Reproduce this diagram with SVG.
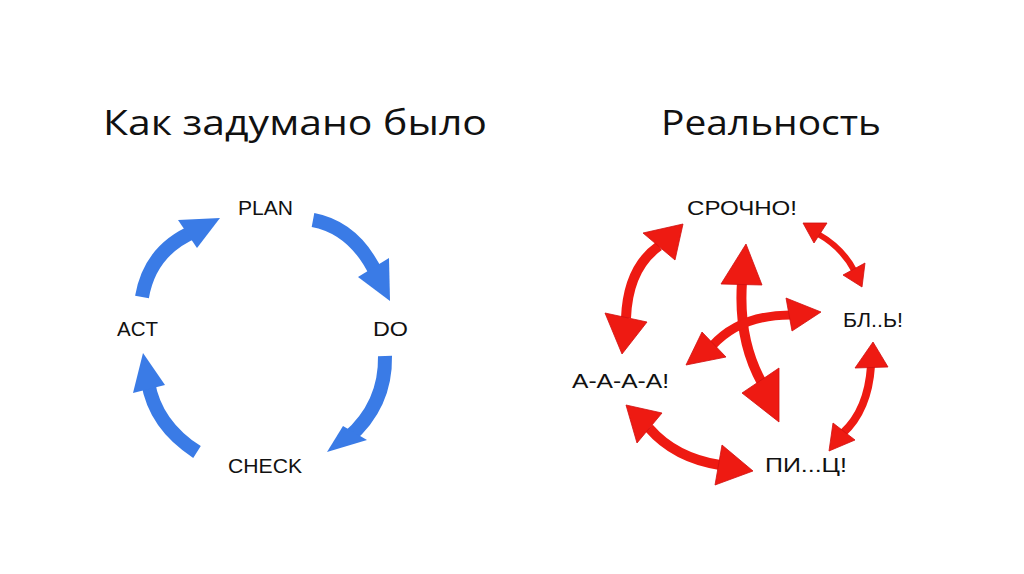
<svg xmlns="http://www.w3.org/2000/svg" width="1024" height="574" viewBox="0 0 1024 574">
<style>
.title{font-family:"Open Sans","Liberation Sans",sans-serif;font-size:35px;fill:#111}
.lbl{font-family:"Liberation Sans",Arial,sans-serif;font-size:21px;fill:#111}
.bs{fill:none;stroke:#3a7be6;stroke-linecap:butt}
.bh{fill:#3a7be6}
.rs{fill:none;stroke:#ee1a12;stroke-linecap:butt}
.rh{fill:#ee1a12;stroke:#d01010;stroke-width:0.8;stroke-linejoin:round}
</style>
<rect width="1024" height="574" fill="#ffffff"/>
<g id="title-left"><text class="title" x="103" y="135" textLength="384" lengthAdjust="spacingAndGlyphs">Как задумано было</text></g>
<g id="title-right"><text class="title" x="661" y="135" textLength="220" lengthAdjust="spacingAndGlyphs">Реальность</text></g>

<g id="node-plan"><text class="lbl" x="238" y="215" textLength="55" lengthAdjust="spacingAndGlyphs">PLAN</text></g>
<g id="node-do"><text class="lbl" x="373" y="336" textLength="35" lengthAdjust="spacingAndGlyphs">DO</text></g>
<g id="node-check"><text class="lbl" x="228" y="473" textLength="74" lengthAdjust="spacingAndGlyphs">CHECK</text></g>
<g id="node-act"><text class="lbl" x="117" y="336" textLength="41" lengthAdjust="spacingAndGlyphs">ACT</text></g>

<g id="node-srochno"><text class="lbl" x="687" y="215" textLength="110" lengthAdjust="spacingAndGlyphs">СРОЧНО!</text></g>
<g id="node-bl"><text class="lbl" x="843" y="327" textLength="60" lengthAdjust="spacingAndGlyphs">БЛ..Ь!</text></g>
<g id="node-aaaa"><text class="lbl" x="572" y="388" textLength="97" lengthAdjust="spacingAndGlyphs">А-А-А-А!</text></g>
<g id="node-pits"><text class="lbl" x="765" y="472" textLength="82" lengthAdjust="spacingAndGlyphs">ПИ...Ц!</text></g>

<g id="connectors">
  <!-- blue cycle -->
  <path class="bs" stroke-width="14" d="M142,297 Q150,250 195,231"/>
  <polygon class="bh" points="220,218 178,220 197,248"/>
  <path class="bs" stroke-width="14" d="M313,220 Q355,228 377,275"/>
  <polygon class="bh" points="390,301 358,277 389,258"/>
  <path class="bs" stroke-width="14" d="M385,356 Q386,405 348,438"/>
  <polygon class="bh" points="327,452 343,426 367,440"/>
  <path class="bs" stroke-width="14" d="M197,452 Q155,425 148,382"/>
  <polygon class="bh" points="143,353 133,393 165,385"/>

  <!-- red chaos -->
  <path class="rs" stroke-width="10" d="M659,246 Q628,268 626,318"/>
  <polygon class="rh" points="683,224 643,233 675,260"/>
  <polygon class="rh" points="622,354 605,313 647,322"/>

  <path class="rs" stroke-width="6" d="M818,234 Q843,248 855,272"/>
  <polygon class="rh" points="803,223 827,223 814,243"/>
  <polygon class="rh" points="862,287 843,275 865,263"/>

  <path class="rs" stroke-width="8" d="M871,366 Q868,410 843,433"/>
  <polygon class="rh" points="873,342 855,368 888,367"/>
  <polygon class="rh" points="829,451 833,423 855,440"/>

  <path class="rs" stroke-width="10" d="M649,428 Q675,458 720,465"/>
  <polygon class="rh" points="626,405 662,413 637,443"/>
  <polygon class="rh" points="753,471 722,445 715,485"/>

  <path class="rs" stroke-width="10" d="M742,282 Q738,340 762,383"/>
  <polygon class="rh" points="746,244 721,284 762,285"/>
  <polygon class="rh" points="779,422 742,393 779,368"/>

  <path class="rs" stroke-width="9" d="M790,315 Q740,315 712,346"/>
  <polygon class="rh" points="821,312 786,298 792,331"/>
  <polygon class="rh" points="686,365 702,332 726,357"/>
</g>
</svg>
